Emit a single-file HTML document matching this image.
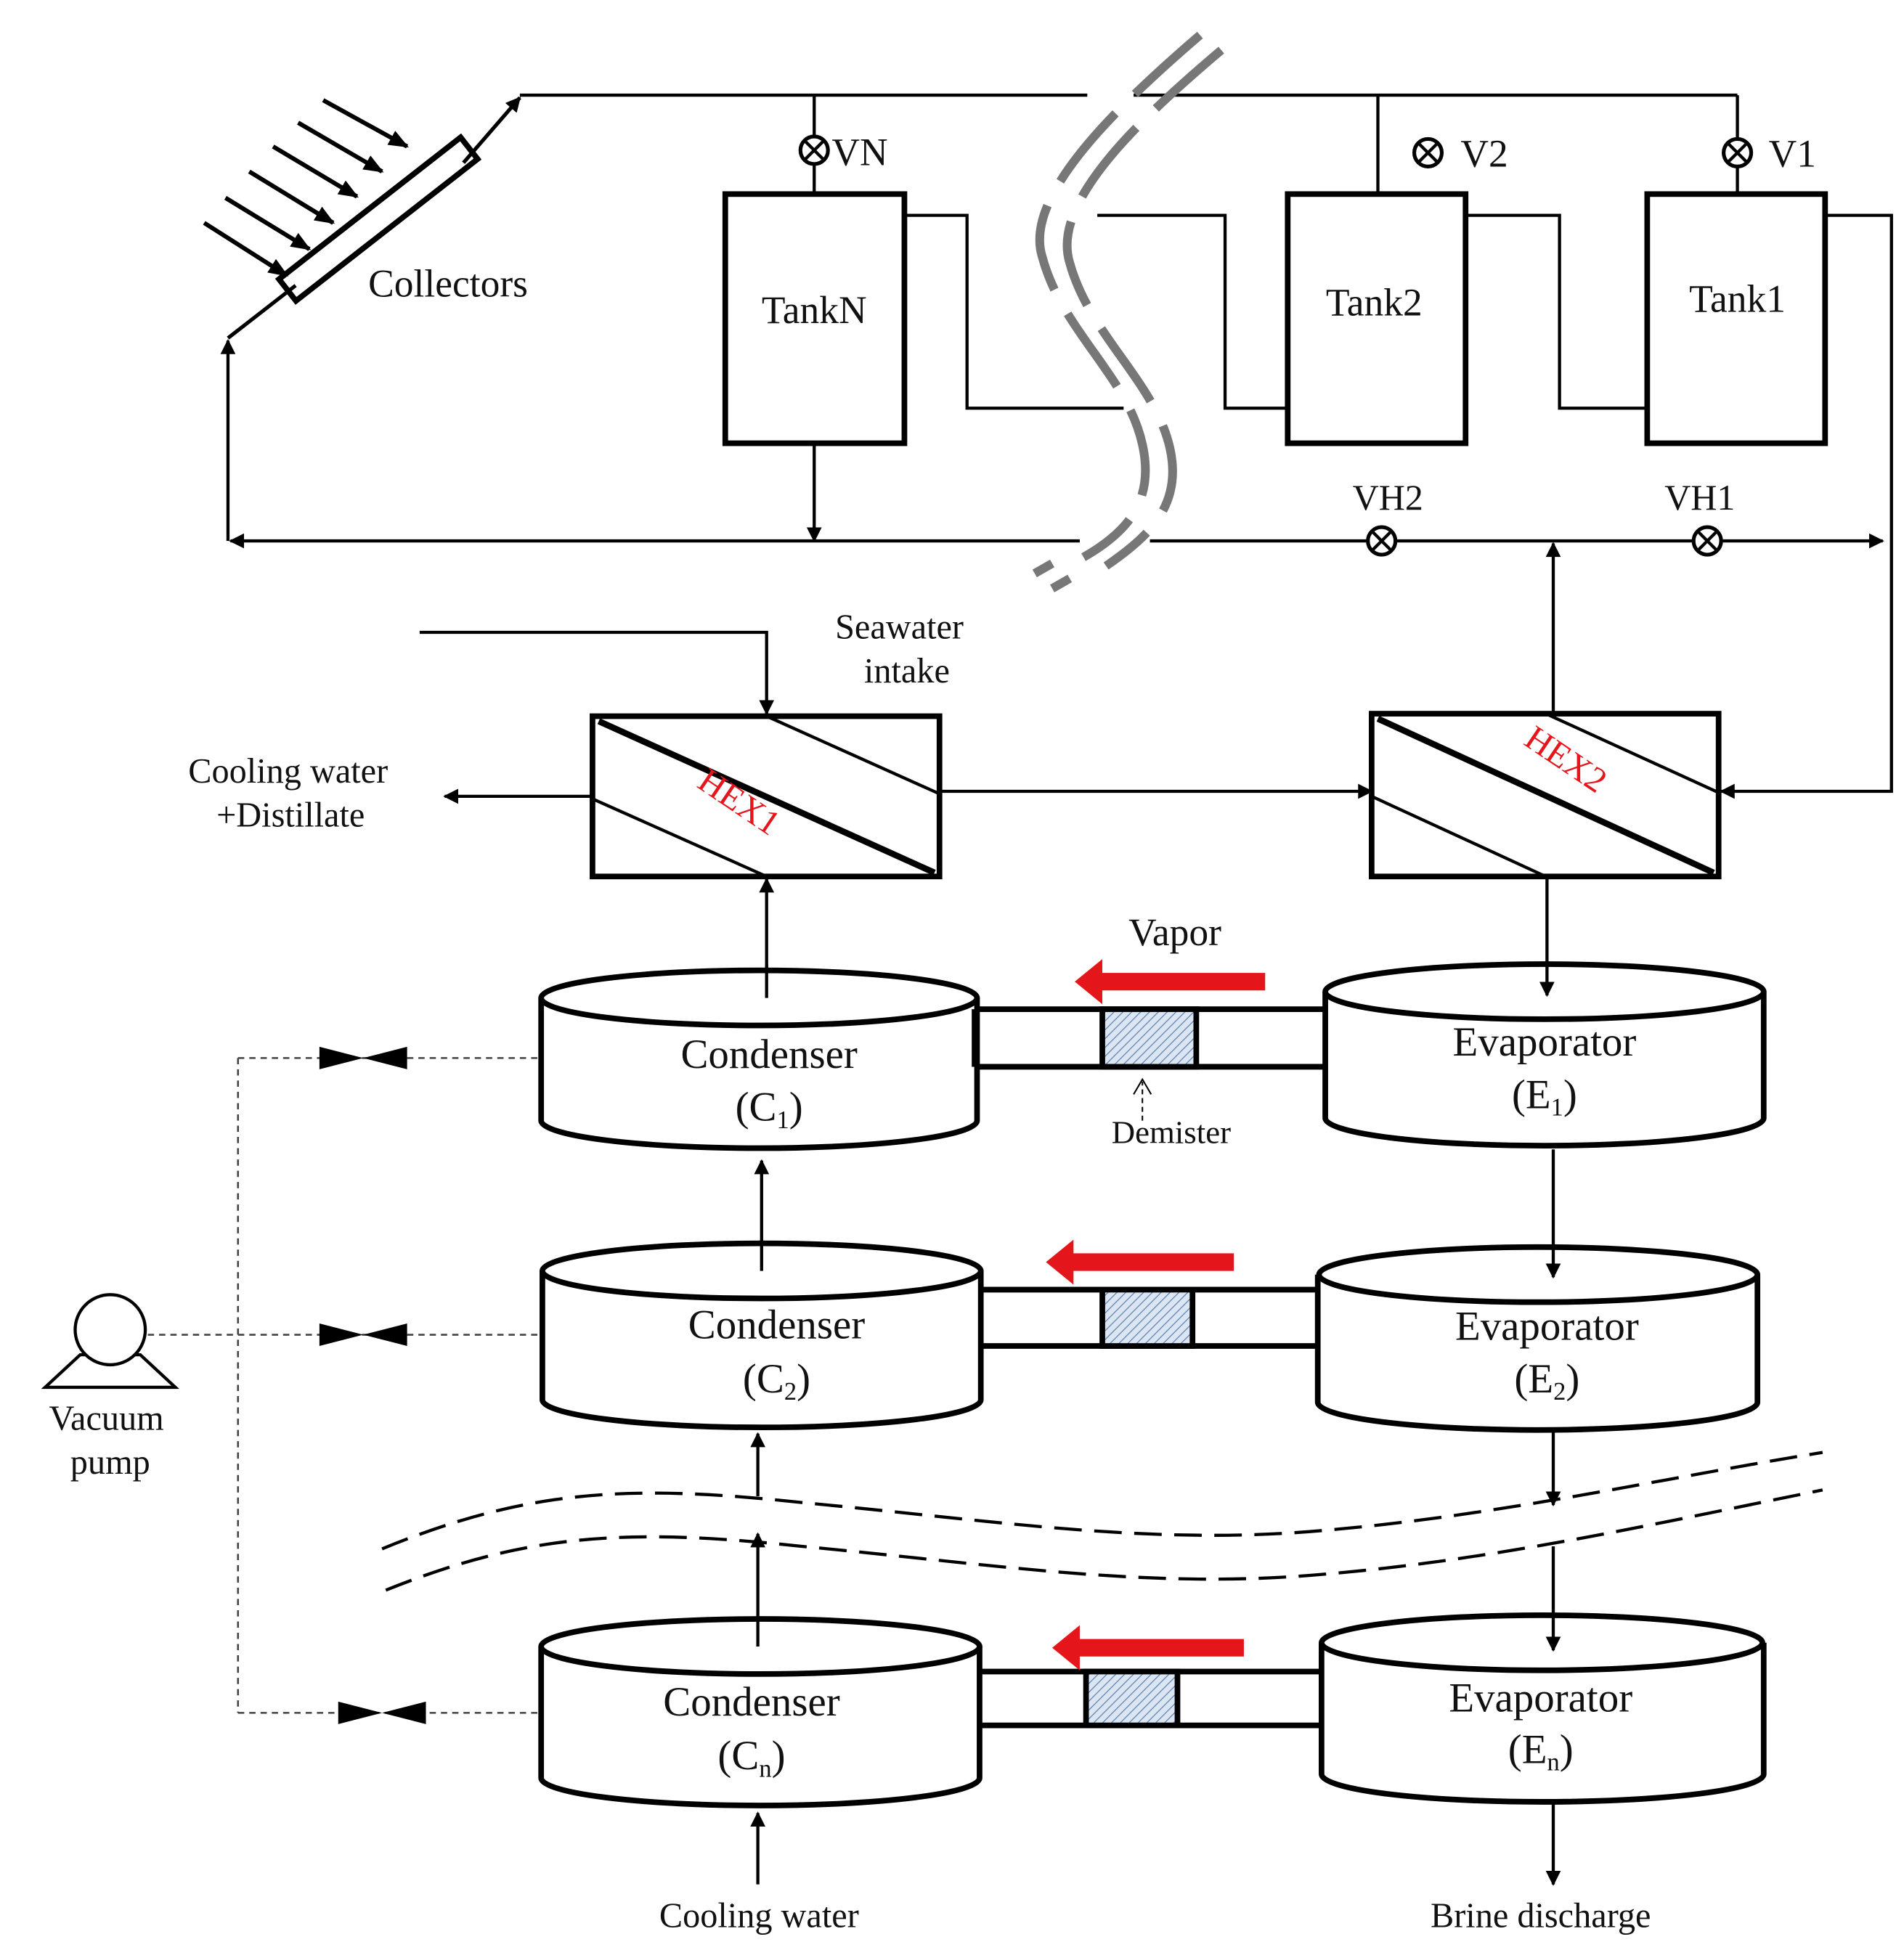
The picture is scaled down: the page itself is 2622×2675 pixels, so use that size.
<!DOCTYPE html>
<html><head><meta charset="utf-8"><style>
html,body{margin:0;padding:0;background:#fff;}
svg{display:block;}
text{font-family:"Liberation Serif",serif;fill:#111;}
</style></head><body>
<svg width="2622" height="2675" viewBox="0 0 1520 1551" preserveAspectRatio="none" xmlns="http://www.w3.org/2000/svg">
<defs>
<marker id="ah" viewBox="0 0 10 10" refX="9" refY="5" markerWidth="7" markerHeight="7" markerUnits="userSpaceOnUse" orient="auto"><path d="M0,0 L10,5 L0,10 z" fill="#000"/></marker>
<marker id="ahb" viewBox="0 0 10 10" refX="9" refY="5" markerWidth="16" markerHeight="16" markerUnits="userSpaceOnUse" orient="auto"><path d="M0,1 L10,5 L0,9 z" fill="#000"/></marker>
<marker id="ahs" viewBox="0 0 10 10" refX="9" refY="5" markerWidth="14" markerHeight="12" markerUnits="userSpaceOnUse" orient="auto"><path d="M0,0 L10,5 L0,10 z" fill="#000"/></marker>
<pattern id="hatch" width="5" height="5" patternUnits="userSpaceOnUse" patternTransform="rotate(45)"><rect width="5" height="5" fill="#dbe6f2"/><line x1="0" y1="0" x2="0" y2="5" stroke="#5a7fb0" stroke-width="1.4"/></pattern>
</defs>
<g stroke="#000" fill="none" stroke-width="2.5">
<path d="M415,76 H868 M905,76 H1387"/>
<path d="M1100,76 V155 M1387,76 V155 M650,76 V155"/>
<path d="M182,270 L236,228" stroke-width="3"/>
<path d="M370,130 L415,78" stroke-width="3" marker-end="url(#ahs)"/>
<rect x="-92" y="-11" width="184" height="22" transform="translate(302,175) rotate(-38)" stroke-width="4.5"/>
<g stroke-width="3.5" marker-end="url(#ahb)">
<path d="M258,80 L325,117"/><path d="M238,98 L305,137"/><path d="M218,117 L285,157"/>
<path d="M199,137 L266,178"/><path d="M180,158 L247,199"/><path d="M163,178 L229,220"/>
</g>
<path d="M182,432 V272" marker-end="url(#ahs)"/>
<path d="M862,432 H184" marker-end="url(#ahs)"/>
<path d="M918,432 H1503" marker-end="url(#ahs)"/>
<path d="M650,354 V432" marker-end="url(#ahs)"/>
<rect x="579" y="155" width="143" height="199" stroke-width="4.5"/>
<rect x="1028" y="155" width="142" height="199" stroke-width="4.5"/>
<rect x="1315" y="155" width="142" height="199" stroke-width="4.5"/>
<path d="M722,172 H772 V326 H897"/>
<path d="M876,172 H978 V326 H1028"/>
<path d="M1170,172 H1245 V326 H1315"/>
<path d="M1457,172 H1510 V632 H1374" marker-end="url(#ahs)"/>
<g stroke-width="3" fill="#fff">
<circle cx="650" cy="120" r="11"/><circle cx="1140" cy="122" r="11"/><circle cx="1387" cy="122" r="11"/>
<circle cx="1103" cy="432" r="11"/><circle cx="1363" cy="432" r="11"/>
</g>
<g stroke-width="2.5">
<path d="M642,112 l16,16 M658,112 l-16,16"/>
<path d="M1132,114 l16,16 M1148,114 l-16,16"/>
<path d="M1379,114 l16,16 M1395,114 l-16,16"/>
<path d="M1095,424 l16,16 M1111,424 l-16,16"/>
<path d="M1355,424 l16,16 M1371,424 l-16,16"/>
</g>
<path d="M1240,570 V434" marker-end="url(#ahs)"/>
<path d="M335,505 H612 V570" marker-end="url(#ahs)"/>
<rect x="473" y="572" width="277" height="128" stroke-width="4.5"/>
<path d="M478,576 L746,697" stroke-width="5"/>
<path d="M612,572 L750,634 M473,638 L612,700"/>
<path d="M473,636 H355" marker-end="url(#ahs)"/>
<path d="M750,632 H1095" marker-end="url(#ahs)"/>
<rect x="1095" y="570" width="277" height="130" stroke-width="4.5"/>
<path d="M1100,574 L1368,697" stroke-width="5"/>
<path d="M1234,570 L1372,633 M1095,636 L1234,700"/>
<path d="M612,797 V702" marker-end="url(#ahs)"/>
</g>
<g stroke="#777" stroke-width="7" fill="none" stroke-dasharray="70 22">
<path d="M958,28 C880,95 818,160 832,205 C848,265 900,300 912,355 C922,400 900,425 865,445"/>
<path d="M975,40 C898,105 840,165 854,210 C870,268 922,305 934,358 C944,403 918,428 883,452"/>
</g>
<path d="M826,458 l14,-8 M840,470 l14,-8" stroke="#777" stroke-width="7"/>
<g stroke="#000" stroke-width="4.5" fill="#fff">
<path d="M432,797 V895 A174,22 0 0 0 780,895 V797"/><ellipse cx="606" cy="797" rx="174" ry="22"/>
<path d="M1058,792 V893 A175,22 0 0 0 1408,893 V792"/><ellipse cx="1233" cy="792" rx="175" ry="22"/>
<path d="M433,1015 V1118 A175,22 0 0 0 783,1118 V1015"/><ellipse cx="608" cy="1015" rx="175" ry="22"/>
<path d="M1052,1018 V1120 A175,22 0 0 0 1403,1120 V1018"/><ellipse cx="1228" cy="1018" rx="175" ry="22"/>
<path d="M432,1315 V1420 A175,22 0 0 0 782,1420 V1315"/><ellipse cx="607" cy="1315" rx="175" ry="22"/>
<path d="M1055,1312 V1417 A176,22 0 0 0 1408,1417 V1312"/><ellipse cx="1231" cy="1312" rx="176" ry="22"/>
</g>
<g stroke="#000" stroke-width="4.5" fill="none">
<path d="M780,806 H1058 M780,852 H1058 M778,806 V852"/>
<path d="M783,1030 H1052 M783,1075 H1052"/>
<path d="M782,1335 H1055 M782,1378 H1055"/>
</g>
<g stroke="#000" stroke-width="4.5" fill="url(#hatch)">
<rect x="880" y="806" width="75" height="46"/>
<rect x="880" y="1030" width="72" height="45"/>
<rect x="867" y="1335" width="73" height="43"/>
</g>
<g stroke="#000" stroke-width="2.5" fill="none">
<path d="M1235,700 V795" marker-end="url(#ahs)"/>
<path d="M612,797 V770" />
<path d="M608,1015 V927" marker-end="url(#ahs)"/>
<path d="M605,1195 V1145" marker-end="url(#ahs)"/>
<path d="M605,1315 V1225" marker-end="url(#ahs)"/>
<path d="M605,1505 V1448" marker-end="url(#ahs)"/>
<path d="M1240,918 V1020" marker-end="url(#ahs)"/>
<path d="M1240,1142 V1202" marker-end="url(#ahs)"/>
<path d="M1240,1235 V1318" marker-end="url(#ahs)"/>
<path d="M1240,1440 V1505" marker-end="url(#ahs)"/>
<path d="M912,895 V864" stroke-width="1.2" stroke-dasharray="4 3"/>
<path d="M905,874 L912,862 L919,874" stroke-width="1.2"/>
</g>
<g stroke="#000" stroke-width="2.5" fill="none" stroke-dasharray="22 10">
<path d="M305,1237 C420,1190 500,1185 640,1200 C800,1215 920,1235 1060,1222 C1200,1210 1330,1180 1455,1160"/>
<path d="M308,1270 C420,1225 500,1220 640,1235 C800,1250 920,1270 1060,1257 C1200,1245 1330,1215 1455,1190"/>
</g>
<g fill="#e5161b">
<path d="M1010,777 H880 V766 L858,784 L880,802 V791 H1010 z"/>
<path d="M985,1001 H857 V990 L835,1008 L857,1026 V1015 H985 z"/>
<path d="M993,1309 H862 V1298 L840,1316 L862,1334 V1323 H993 z"/>
</g>
<g stroke="#444" stroke-width="1.5" fill="none" stroke-dasharray="5 4">
<path d="M190,845 H432 M118,1066 H432 M190,1368 H432 M190,845 V1368"/>
</g>
<g fill="#000">
<path d="M255,836 L290,845 L255,854 z M325,836 L290,845 L325,854 z"/>
<path d="M255,1057 L290,1066 L255,1075 z M325,1057 L290,1066 L325,1075 z"/>
<path d="M270,1359 L305,1368 L270,1377 z M340,1359 L305,1368 L340,1377 z"/>
</g>
<g stroke="#000" stroke-width="2.5" fill="#fff">
<path d="M36,1108 H140 L112,1082 H64 z"/>
<circle cx="88" cy="1062" r="28"/>
</g>
<g font-size="31">
<text x="294" y="237">Collectors</text>
<text x="650" y="258" text-anchor="middle">TankN</text>
<text x="1097" y="252" text-anchor="middle">Tank2</text>
<text x="1387" y="249" text-anchor="middle">Tank1</text>
<text x="664" y="132">VN</text>
<text x="1166" y="133">V2</text>
<text x="1412" y="133">V1</text>
<text x="1108" y="407" text-anchor="middle" font-size="29">VH2</text>
<text x="1357" y="407" text-anchor="middle" font-size="29">VH1</text>
</g>
<g font-size="28" text-anchor="middle">
<text x="718" y="510">Seawater</text>
<text x="724" y="545">intake</text>
<text x="230" y="625">Cooling water</text>
<text x="232" y="660">+Distillate</text>
<text x="938" y="755" font-size="31">Vapor</text>
<text x="935" y="913" font-size="26">Demister</text>
<text x="85" y="1142">Vacuum</text>
<text x="88" y="1177">pump</text>
<text x="606" y="1539">Cooling water</text>
<text x="1230" y="1539">Brine discharge</text>
</g>
<g font-size="33" text-anchor="middle">
<text x="614" y="853">Condenser</text>
<text x="614" y="895">(C<tspan font-size="20" dy="6">1</tspan><tspan dy="-6">)</tspan></text>
<text x="1233" y="843">Evaporator</text>
<text x="1233" y="885">(E<tspan font-size="20" dy="6">1</tspan><tspan dy="-6">)</tspan></text>
<text x="620" y="1069">Condenser</text>
<text x="620" y="1112">(C<tspan font-size="20" dy="6">2</tspan><tspan dy="-6">)</tspan></text>
<text x="1235" y="1070">Evaporator</text>
<text x="1235" y="1112">(E<tspan font-size="20" dy="6">2</tspan><tspan dy="-6">)</tspan></text>
<text x="600" y="1370">Condenser</text>
<text x="600" y="1413">(C<tspan font-size="20" dy="6">n</tspan><tspan dy="-6">)</tspan></text>
<text x="1230" y="1367">Evaporator</text>
<text x="1230" y="1408">(E<tspan font-size="20" dy="6">n</tspan><tspan dy="-6">)</tspan></text>
</g>
<g font-size="28">
<text x="0" y="0" transform="translate(585,648) rotate(34)" text-anchor="middle" style="fill:#e5161b">HEX1</text>
<text x="0" y="0" transform="translate(1245,614) rotate(34)" text-anchor="middle" style="fill:#e5161b">HEX2</text>
</g>
</svg>
</body></html>
